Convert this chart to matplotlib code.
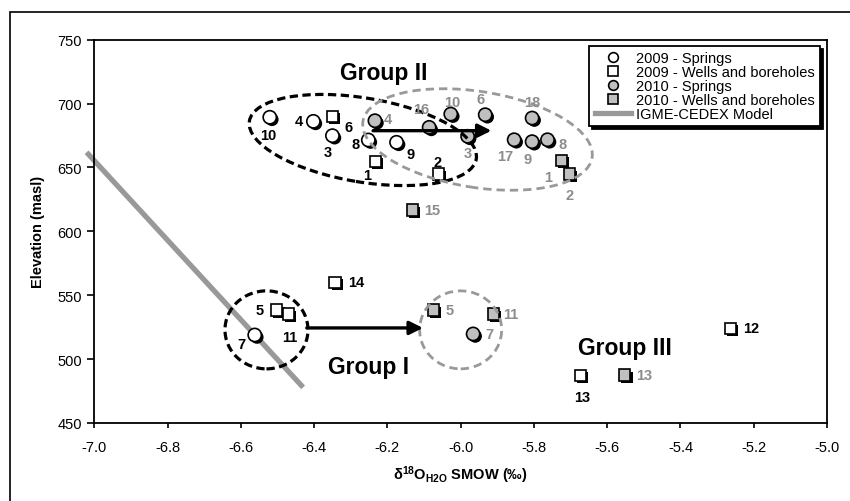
import matplotlib
matplotlib.use("Agg")
import matplotlib.pyplot as plt
import matplotlib.patheffects as pe
import matplotlib.transforms as mtransforms
from matplotlib.patches import Ellipse, Rectangle
from matplotlib.lines import Line2D

plt.rcParams["font.family"] = ["Liberation Sans", "DejaVu Sans"]
plt.rcParams["mathtext.fontset"] = "custom"
plt.rcParams["mathtext.rm"] = "Liberation Sans"
plt.rcParams["mathtext.bf"] = "Liberation Sans:bold"
plt.rcParams["mathtext.default"] = "bf"

# 2009 - springs
spr09_id = ["10", "4", "3", "8", "9", "7"]
spr09_x = [-6.521, -6.402, -6.350, -6.252, -6.175, -6.562]
spr09_y = [689.3, 686.1, 674.9, 671.5, 669.7, 518.9]

# 2009 - wells and boreholes
well09_id = ["6", "1", "2", "14", "5", "11", "12", "13"]
well09_x = [-6.350, -6.232, -6.061, -6.343, -6.502, -6.471, -5.263, -5.673]
well09_y = [690.0, 654.8, 644.9, 560.1, 538.4, 535.3, 524.1, 487.0]

# 2010 - springs
spr10_id = ["4", "16", "10", "6", "3", "18", "17", "9", "8", "7"]
spr10_x = [-6.234, -6.086, -6.027, -5.933, -5.981, -5.805, -5.854, -5.805, -5.763, -5.966]
spr10_y = [686.6, 681.4, 691.8, 691.3, 674.4, 688.7, 671.7, 670.2, 671.7, 519.7]

# 2010 - wells and boreholes
well10_id = ["1", "2", "15", "5", "11", "13"]
well10_x = [-5.725, -5.704, -6.132, -6.075, -5.911, -5.552]
well10_y = [655.3, 644.9, 616.7, 538.4, 535.3, 487.6]

# IGME-CEDEX model line
model_x = [-7.021, -6.430]
model_y = [661.9, 477.9]

x_ticks = [-7.0, -6.8, -6.6, -6.4, -6.2, -6.0, -5.8, -5.6, -5.4, -5.2, -5.0]
y_ticks = [450, 500, 550, 600, 650, 700, 750]

# label offsets in pixels (right, up)
off_spr09 = [(-2, -18), (-14, 0), (-5, -16), (-13, -4), (14, -12), (-13, -9)]
off_well09 = [(16, -11), (-9, -14), (-1, 12), (21, 0), (-17, 0), (2, -23), (20, 0), (2, -21)]
off_spr10 = [(13, 2), (-8, 18), (1, 12), (-5, 16), (0, -17), (0, 16), (-9, -16), (-5, -17), (15, -4), (16, 0)]
off_well10 = [(-13, -16), (0, -21), (20, 0), (16, 0), (17, 0), (19, 0)]

GRAY_FILL = "#c0c0c0"
GRAY_TXT = "#8c8c8c"
GRAY_LINE = "#999999"

fig = plt.figure(figsize=(8.5, 5.02), dpi=100)
ax = fig.add_axes([0.1109, 0.1554, 0.8621, 0.7635])

# outer frame (only left / top visible)
fig.patches.append(Rectangle((10 / 850, -0.1), 1.2, 0.9747 + 0.1, transform=fig.transFigure,
                             fill=False, edgecolor="black", lw=1.2))

ax.plot(model_x, model_y, color=GRAY_LINE, lw=3.8, solid_capstyle="butt", clip_on=False, zorder=2)

shadow = [pe.SimplePatchShadow(offset=(1.6, -1.6), shadow_rgbFace="black", alpha=1.0), pe.Normal()]

ax.plot(spr09_x, spr09_y, ls="none", marker="o", ms=9.5, mfc="white", mec="black", mew=1.2,
        path_effects=shadow, zorder=3)
ax.plot(well09_x, well09_y, ls="none", marker="s", ms=8, mfc="white", mec="black", mew=1.2,
        path_effects=shadow, zorder=3)
ax.plot(spr10_x, spr10_y, ls="none", marker="o", ms=9.5, mfc=GRAY_FILL, mec="black", mew=1.2,
        path_effects=shadow, zorder=3)
ax.plot(well10_x, well10_y, ls="none", marker="s", ms=8, mfc=GRAY_FILL, mec="black", mew=1.2,
        path_effects=shadow, zorder=3)

for ids, xs, ys, offs, col in [
    (spr09_id, spr09_x, spr09_y, off_spr09, "black"),
    (well09_id, well09_x, well09_y, off_well09, "black"),
    (spr10_id, spr10_x, spr10_y, off_spr10, GRAY_TXT),
    (well10_id, well10_x, well10_y, off_well10, GRAY_TXT),
]:
    for name, x, y, (dx, dy) in zip(ids, xs, ys, offs):
        ax.annotate(name, (x, y), xytext=(dx, dy), textcoords="offset pixels",
                    ha="center", va="center", fontsize=10.5, fontweight="bold",
                    color=col, zorder=5)

# dashed group outlines: centre (data), width / height (px), angle, colour
ellipses = [
    (-6.267, 671.5, 230, 84, -9.5, "black"),
    (-5.954, 671.9, 232, 96, -9.0, GRAY_LINE),
    (-6.530, 522.9, 83, 78, 0, "black"),
    (-6.000, 522.9, 82, 78, 0, GRAY_LINE),
]
for cx, cy, w, h, ang, col in ellipses:
    trans = fig.dpi_scale_trans + mtransforms.ScaledTranslation(cx, cy, ax.transData)
    if col == "black":
        ls, lw = (0, (2.6, 1.4)), 2.3
    else:
        ls, lw = (0, (3.0, 1.8)), 2.0
    ax.add_patch(Ellipse((0, 0), w / 100, h / 100, angle=ang, transform=trans,
                         fill=False, edgecolor=col, lw=lw, linestyle=ls, zorder=4))

# shift arrows
arrows = [((-6.239, 678.8), (-5.916, 678.8)), ((-6.420, 524.4), (-6.103, 524.4))]
for start, end in arrows:
    ax.annotate("", xy=end, xytext=start,
                arrowprops=dict(arrowstyle="-|>", color="black", lw=2.4,
                                mutation_scale=20, shrinkA=0, shrinkB=0), zorder=5)

ax.text(-6.21, 719.2, "Group II", fontsize=16.5, fontweight="bold", ha="center", va="baseline")
ax.text(-6.252, 489.5, "Group I", fontsize=16.5, fontweight="bold", ha="center", va="baseline")
ax.text(-5.551, 503.8, "Group III", fontsize=16.5, fontweight="bold", ha="center", va="baseline")

ax.set_xlim(-7.0, -5.0)
ax.set_ylim(450, 750)
ax.set_xticks(x_ticks)
ax.set_xticklabels([f"{t:.1f}" for t in x_ticks])
ax.set_yticks(y_ticks)
ax.tick_params(axis="x", direction="out", length=3.5, width=1.2, pad=9, labelsize=10.5)
ax.tick_params(axis="y", direction="out", length=5, width=1.2, pad=4, labelsize=10.5)
for sp in ax.spines.values():
    sp.set_linewidth(1.3)

ax.set_ylabel("Elevation (masl)", fontsize=10.5, fontweight="bold")
ax.yaxis.set_label_coords(-0.067, 0.5)
ax.set_xlabel("δ$^{18}$O$_{H2O}$ SMOW (‰)", fontsize=10.5, fontweight="bold")
ax.xaxis.set_label_coords(0.5, -0.105)

handles = [
    Line2D([], [], ls="none", marker="o", ms=7, mfc="white", mec="black", mew=1.2, label="2009 - Springs"),
    Line2D([], [], ls="none", marker="s", ms=7, mfc="white", mec="black", mew=1.2, label="2009 - Wells and boreholes"),
    Line2D([], [], ls="none", marker="o", ms=7, mfc=GRAY_FILL, mec="black", mew=1.2, label="2010 - Springs"),
    Line2D([], [], ls="none", marker="s", ms=7, mfc=GRAY_FILL, mec="black", mew=1.2, label="2010 - Wells and boreholes"),
    Line2D([], [], color=GRAY_LINE, lw=3.8, label="IGME-CEDEX Model"),
]
leg = ax.legend(handles=handles, loc="upper right", bbox_to_anchor=(0.9904, 0.9843),
                fontsize=10.5, fancybox=False, edgecolor="black", framealpha=1,
                shadow={"color": "black", "alpha": 1}, borderpad=0.35, labelspacing=0,
                handlelength=2.5, handletextpad=0.35, borderaxespad=0)
leg.get_frame().set_linewidth(1.3)
leg.set_zorder(6)

fig.savefig("out.png", dpi=100)
